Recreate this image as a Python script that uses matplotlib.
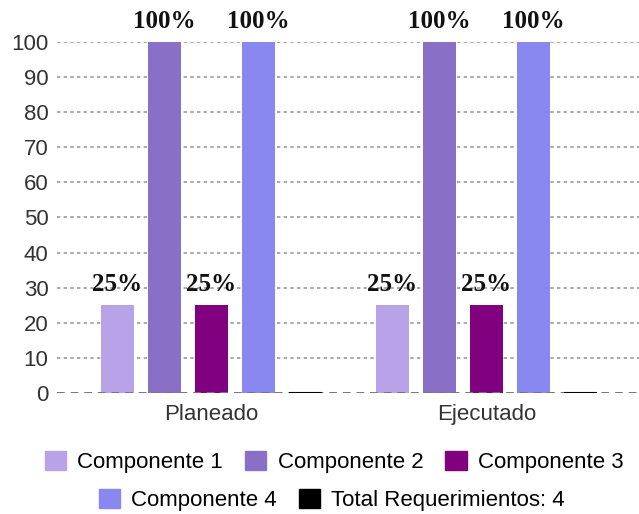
import matplotlib.pyplot as plt
import numpy as np
from matplotlib.patches import Patch

grupos = ["Planeado", "Ejecutado"]
series = ["Componente 1", "Componente 2", "Componente 3", "Componente 4", "Total Requerimientos: 4"]
colores = ["#b9a3e8", "#8a6fc6", "#800080", "#8888f0", "#000000"]
comp1 = [25, 25]
comp2 = [100, 100]
comp3 = [25, 25]
comp4 = [100, 100]
total = [0, 0]
etiquetas = [["25%", "25%"], ["100%", "100%"], ["25%", "25%"], ["100%", "100%"], None]
yticks = list(range(0, 101, 10))

valores = [comp1, comp2, comp3, comp4, total]

fig = plt.figure(figsize=(6.39, 5.14), dpi=100)
ax = fig.add_axes([0.089, 0.2354, 0.911, 0.6829])

x = np.arange(len(grupos))
paso = 0.171
ancho = 0.12

# rejilla punteada detras de las barras
for v in yticks[1:]:
    ax.axhline(v, color="#999999", lw=1.2, ls=(0, (2, 2)), zorder=0)
ax.axhline(0, color="#777777", lw=1.4, ls=(0, (4, 3)), zorder=3)

for i, (nombre, vals, col) in enumerate(zip(series, valores, colores)):
    pos = x + (i - 2) * paso
    if col == "#000000":
        ax.bar(pos, vals, ancho, color=col, edgecolor=col, lw=1.5, zorder=4)
    else:
        ax.bar(pos, vals, ancho, color=col, zorder=2)
    if etiquetas[i] is not None:
        for p, v, t in zip(pos, vals, etiquetas[i]):
            ax.text(p, v + 2.5, t, ha="center", va="bottom", fontsize=18,
                    fontweight="bold", family="Liberation Serif", color="#111111",
                    clip_on=False, zorder=5)

ax.set_xlim(-0.562, 1.555)
ax.set_ylim(0, 100)
ax.set_yticks(yticks)
ax.set_yticklabels([str(v) for v in yticks], fontsize=16, family="Liberation Sans", color="#333333")
ax.set_xticks(x)
ax.set_xticklabels(grupos, fontsize=16, family="Liberation Sans", color="#333333")
ax.tick_params(axis="both", length=0)
ax.tick_params(axis="x", pad=8)
ax.tick_params(axis="y", pad=6)
for s in ax.spines.values():
    s.set_visible(False)

# leyenda en dos filas
h = [Patch(facecolor=c, edgecolor=c) for c in colores]
kw = dict(frameon=False, handlelength=0.95, handleheight=0.95, handletextpad=0.5,
          columnspacing=1.0, prop={"family": "Liberation Sans", "size": 16})
fig.legend(h[:3], series[:3], loc="center", bbox_to_anchor=(0.523, 0.101), ncol=3, **kw)
fig.legend(h[3:], series[3:], loc="center", bbox_to_anchor=(0.519, 0.027), ncol=2, **kw)

fig.savefig("out.png", dpi=100)
